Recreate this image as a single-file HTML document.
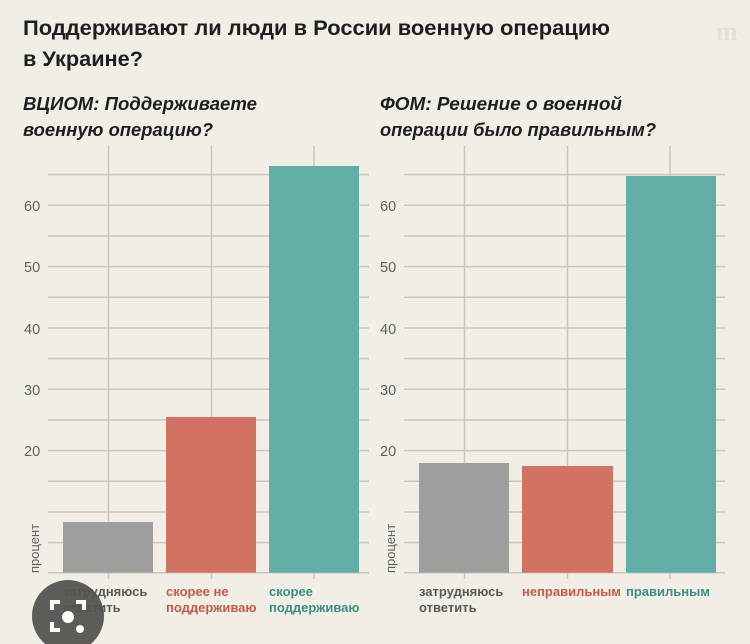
<!DOCTYPE html>
<html><head><meta charset="utf-8"><style>
html,body{margin:0;padding:0;background:#f1eee6;}
svg{display:block}
</style></head><body>
<svg width="750" height="644" viewBox="0 0 750 644" xmlns="http://www.w3.org/2000/svg" font-family="'Liberation Sans','Noto Sans CJK SC',sans-serif">
<rect width="750" height="644" fill="#f1eee6"/>
<text x="23" y="35" font-size="21" font-weight="bold" fill="#1e1e1e" textLength="587" lengthAdjust="spacingAndGlyphs">Поддерживают ли люди в России военную операцию</text>
<text x="23" y="66" font-size="21" font-weight="bold" fill="#1e1e1e" textLength="120" lengthAdjust="spacingAndGlyphs">в Украине?</text>
<text x="716" y="40" font-size="26" font-weight="bold" fill="#e4dfd2" font-family="'Liberation Serif',serif">m</text>
<text x="23" y="110" font-size="18" font-weight="bold" font-style="italic" fill="#1e1e1e" textLength="234" lengthAdjust="spacingAndGlyphs">ВЦИОМ: Поддерживаете</text>
<text x="23" y="136" font-size="18" font-weight="bold" font-style="italic" fill="#1e1e1e" textLength="190" lengthAdjust="spacingAndGlyphs">военную операцию?</text>
<text x="380" y="110" font-size="18" font-weight="bold" font-style="italic" fill="#1e1e1e" textLength="242" lengthAdjust="spacingAndGlyphs">ФОМ: Решение о военной</text>
<text x="380" y="136" font-size="18" font-weight="bold" font-style="italic" fill="#1e1e1e" textLength="276" lengthAdjust="spacingAndGlyphs">операции было правильным?</text>

<g id="L">
<g stroke="#c9c6c0" stroke-width="1.5">
<line x1="48" x2="369" y1="174.6" y2="174.6"/>
<line x1="48" x2="369" y1="205.3" y2="205.3"/>
<line x1="48" x2="369" y1="236" y2="236"/>
<line x1="48" x2="369" y1="266.6" y2="266.6"/>
<line x1="48" x2="369" y1="297.3" y2="297.3"/>
<line x1="48" x2="369" y1="328" y2="328"/>
<line x1="48" x2="369" y1="358.6" y2="358.6"/>
<line x1="48" x2="369" y1="389.3" y2="389.3"/>
<line x1="48" x2="369" y1="420" y2="420"/>
<line x1="48" x2="369" y1="450.6" y2="450.6"/>
<line x1="48" x2="369" y1="481.3" y2="481.3"/>
<line x1="48" x2="369" y1="512" y2="512"/>
<line x1="48" x2="369" y1="542.6" y2="542.6"/>
<line x1="48" x2="369" y1="572.7" y2="572.7"/>
<line x1="108.5" x2="108.5" y1="146" y2="579"/>
<line x1="211.5" x2="211.5" y1="146" y2="579"/>
<line x1="314" x2="314" y1="146" y2="579"/>
</g>
<g font-size="14.5" fill="#606060">
<text x="24" y="211">60</text>
<text x="24" y="272">50</text>
<text x="24" y="334">40</text>
<text x="24" y="395">30</text>
<text x="24" y="456">20</text>
</g>
<text transform="translate(39,573) rotate(-90)" font-size="13" fill="#606060">процент</text>
</g>
<use href="#L" x="356"/>

<rect x="63" y="522" width="90" height="50.7" fill="#9e9e9e"/>
<rect x="166" y="417" width="90" height="155.7" fill="#d17263"/>
<rect x="269" y="166" width="90" height="406.7" fill="#60aea5"/>
<rect x="419" y="463" width="90" height="109.7" fill="#9e9e9e"/>
<rect x="522" y="466" width="91" height="106.7" fill="#d17263"/>
<rect x="626" y="176" width="90" height="396.7" fill="#60aea5"/>

<g font-size="13" font-weight="bold">
<text x="63" y="596" fill="#5a5a5a">затрудняюсь</text>
<text x="63" y="612" fill="#5a5a5a">ответить</text>
<text x="166" y="596" fill="#c65a48">скорее не</text>
<text x="166" y="612" fill="#c65a48">поддерживаю</text>
<text x="269" y="596" fill="#3a9084">скорее</text>
<text x="269" y="612" fill="#3a9084">поддерживаю</text>
<text x="419" y="596" fill="#5a5a5a">затрудняюсь</text>
<text x="419" y="612" fill="#5a5a5a">ответить</text>
<text x="522" y="596" fill="#c65a48">неправильным</text>
<text x="626" y="596" fill="#3a9084">правильным</text>
</g>

<circle cx="68" cy="616" r="36" fill="#555350" opacity="0.95"/>
<path d="M52 622 v8 h8 M84 610 v-8 h-8 M52 610 v-8 h8" stroke="#fff" stroke-width="4" fill="none"/>
<circle cx="68" cy="617" r="6" fill="#fff"/>
<circle cx="80" cy="629" r="4" fill="#fff"/>
</svg>
</body></html>
